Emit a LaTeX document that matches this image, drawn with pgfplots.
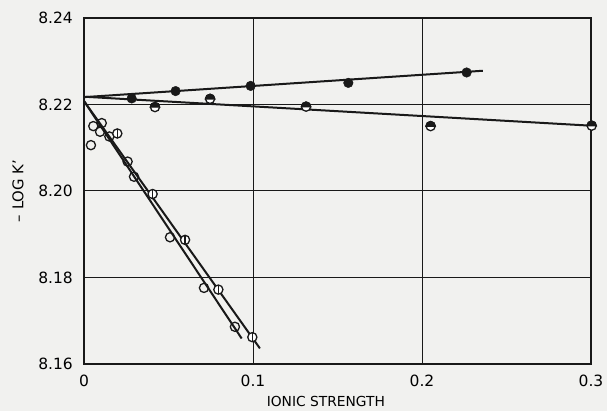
\documentclass[border=0pt]{standalone}
\usepackage{pgfplots}
\pgfplotsset{compat=1.18}
\usepackage{fontspec}
\setmainfont{DejaVu Sans}
\usetikzlibrary{plotmarks}
\definecolor{bg}{RGB}{241,241,239}
\definecolor{ink}{RGB}{25,25,25}
\pgfdeclareplotmark{ovbar}{%
  \pgfpathcircle{\pgfpointorigin}{\pgfplotmarksize}%
  \pgfusepathqfillstroke
  \pgfpathmoveto{\pgfpoint{0pt}{\pgfplotmarksize}}%
  \pgfpathlineto{\pgfpoint{0pt}{-\pgfplotmarksize}}%
  \pgfusepathqstroke}
\pgfdeclareplotmark{tophalf}{%
  \pgfpathcircle{\pgfpointorigin}{\pgfplotmarksize}%
  \pgfusepathqfillstroke
  \begin{pgfscope}%
  \pgfsetfillcolor{ink}%
  \pgfpathmoveto{\pgfpoint{-\pgfplotmarksize}{0pt}}%
  \pgfpatharc{180}{0}{\pgfplotmarksize}%
  \pgfpathclose
  \pgfusepathqfillstroke
  \end{pgfscope}}
\begin{document}
\begin{tikzpicture}
\fill[bg] (-84pt,-47pt) rectangle (523pt,364pt);
\begin{axis}[
  scale only axis, width=507pt, height=346pt,
  xmin=0, xmax=0.3, ymin=8.16, ymax=8.24,
  xtick={0,0.1,0.2,0.3}, xticklabels={0,0.1,0.2,0.3},
  ytick={8.16,8.18,8.20,8.22,8.24}, yticklabels={8.16,8.18,8.20,8.22,8.24},
  grid=major, major grid style={ink, line width=1pt},
  major tick length=0pt,
  axis line style={ink, line width=1.6pt},
  clip=false,
  yticklabel style={font=\fontsize{15.5}{18}\selectfont, anchor=east, inner sep=0pt, xshift=-11pt},
  xticklabel style={font=\fontsize{15.5}{18}\selectfont, anchor=north, inner sep=0pt, yshift=-11pt},
  xlabel={IONIC STRENGTH},
  ylabel={-- LOG K'},
  xlabel style={font=\fontsize{13.8}{16}\selectfont, at={(axis description cs:0.477,0)}, anchor=center, yshift=-37pt},
  ylabel style={font=\fontsize{14.8}{17}\selectfont, at={(axis description cs:-0.1302,0.5)}, anchor=center},
]
% fitted lines
\addplot[ink, line width=2pt] coordinates {(0,8.2217) (0.236,8.2278)};
\addplot[ink, line width=2pt] coordinates {(0,8.2218) (0.3,8.2151)};
\addplot[ink, line width=2pt] coordinates {(0,8.2208) (0.0933,8.1659)};
\addplot[ink, line width=2pt] coordinates {(0,8.2208) (0.1041,8.1636)};
% filled circles
\addplot[only marks, mark=*, mark size=4.8pt, mark options={draw=ink, fill=ink}] coordinates {
(0.0282,8.2214) (0.0542,8.2231) (0.0986,8.2243) (0.1564,8.2250) (0.2264,8.2274)};
% top-half filled circles
\addplot[only marks, mark=tophalf, mark size=4.6pt, mark options={draw=ink, fill=white, line width=1.3pt}] coordinates {
(0.0420,8.2194) (0.0746,8.2213) (0.1314,8.2195) (0.2051,8.2150) (0.3004,8.2151)};
% open circles
\addplot[only marks, mark=o, mark size=4.6pt, mark options={draw=ink, fill=white, line width=1.3pt}] coordinates {
(0.0041,8.2106) (0.0055,8.2150) (0.0105,8.2157) (0.0095,8.2137) (0.0150,8.2126)
(0.0258,8.2068) (0.0296,8.2033) (0.0509,8.1893) (0.0710,8.1776) (0.0893,8.1686)};
% circles with vertical bar
\addplot[only marks, mark=ovbar, mark size=4.6pt, mark options={draw=ink, fill=white, line width=1.3pt}] coordinates {
(0.0197,8.2133) (0.0406,8.1993) (0.0598,8.1887) (0.0795,8.1772) (0.0996,8.1662)};
\end{axis}
\end{tikzpicture}
\end{document}
